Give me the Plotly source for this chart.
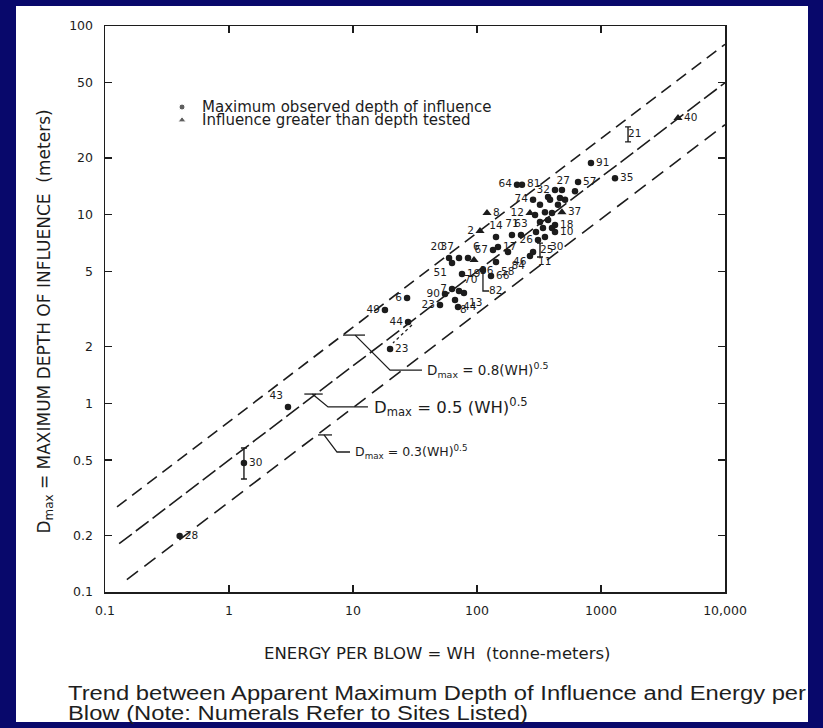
import math
import plotly.graph_objects as go

# ---------------- data ----------------
# sites: maximum observed depth of influence (filled circles)
circ_site = ["28", "30", "43", "23", "44", "49", "6", "90", "23", "8", "44", "7", "70", "13",
             "19", "66", "", "20", "51", "37", "6", "67", "17", "58", "46", "84", "11", "14",
             "71", "63", "64", "81", "74", "32", "", "27", "57", "91", "35", "18", "30", "10", "26",
             "", "", "", "", "", "", "", "", "", "", "", "", "", ""]
circ_wh = [0.40, 1.32, 2.99, 19.9, 27.8, 18.1, 27.3, 55.2, 50.3, 66.5, 70.3, 62.9, 71.6, 78.5,
           75.7, 129.7, 111.7, 59.5, 62.9, 71.6, 84.6, 134.6, 147.6, 142.3, 177.8, 267.4, 283.1, 142.3,
           191.4, 226.4, 210.2, 230.6, 283.1, 425.6, 484.2, 617, 653.1, 830, 1297, 425.6, 353.2, 425.6, 310.5,
           322.1, 353.2, 388.2, 374.1, 322.1, 293.8, 340.4, 402.6, 449.8, 466.7, 299.2, 374.1, 512.9, 402.6]
circ_d = [0.198, 0.483, 0.957, 1.94, 2.70, 3.12, 3.62, 3.80, 3.32, 3.53, 3.24, 4.04, 3.94, 3.84,
          4.85, 4.73, 5.09, 5.89, 5.54, 5.89, 5.89, 6.50, 6.74, 5.61, 6.34, 6.04, 6.34, 7.62,
          7.80, 7.80, 14.4, 14.4, 12.0, 13.5, 13.5, 13.3, 14.9, 18.8, 15.6, 8.81, 7.62, 8.09, 7.34,
          11.3, 10.3, 12.0, 9.37, 9.14, 9.95, 8.50, 10.2, 11.3, 12.25, 8.09, 12.4, 12.0, 8.50]

# sites: influence greater than depth tested (triangles)
tri_site = ["36", "2", "8", "12", "37", "40"]
tri_wh = [94.6, 105.7, 120.4, 267.4, 484.2, 4178]
tri_d = [5.75, 8.19, 10.2, 10.2, 10.3, 32.5]

# sites reported as a depth range
range_site = ["30", "21", "25"]
range_wh = [1.32, 1652, 322.1]
range_low = [0.397, 24.3, 5.97]
range_high = [0.58, 29.2, 7.07]
range_mid = [0.483, 26.6, 6.5]

# trend lines  Dmax = k (WH)^0.5
line_k = [0.8, 0.5, 0.3]
line_wh_start = [0.125, 0.13, 0.15]
line_wh_end = [10000, 10000, 10000]
line_text = ["D<sub>max</sub> = 0.8(WH)<sup>0.5</sup>",
             "D<sub>max</sub> = 0.5 (WH)<sup>0.5</sup>",
             "D<sub>max</sub> = 0.3(WH)<sup>0.5</sup>"]

# leader lines for equation labels (tick on line, slant, horizontal)
lead_tick_wh = [(8.30, 12.5), (4.05, 5.7), (5.22, 6.77)]
lead_tick_d = [2.30, 1.12, 0.680]
lead_path_wh = [(10.4, 19.9, 36.0), (4.7, 6.29, 13.2), (5.84, 7.43, 9.46)]
lead_path_d = [(2.30, 1.50, 1.50), (1.12, 0.957, 0.957), (0.680, 0.552, 0.552)]
lead_text_wh = [38.1, 14.2, 10.0]

# leader for site 82 and dotted link 44-23
s82_wh = [111.7, 111.7, 125]
s82_d = [5.09, 3.94, 3.94]
dot_wh = [29.9, 21.0]
dot_d = [2.60, 2.09]

# key (legend) entries
key_text = ["Maximum observed depth of influence", "Influence greater than depth tested"]
key_sym_wh = 0.418
key_text_wh = 0.583
key_d = [37.2, 31.7]

x_ticks = [0.1, 1, 10, 100, 1000, 10000]
x_ticktext = ["0.1", "1", "10", "100", "1000", "10,000"]
y_ticks = [0.1, 0.2, 0.5, 1, 2, 5, 10, 20, 50, 100]
y_ticktext = ["0.1", "0.2", "0.5", "1", "2", "5", "10", "20", "50", "100"]

caption_lines = ["Trend between Apparent Maximum Depth of Influence and Energy per",
                 "Blow (Note: Numerals Refer to Sites Listed)"]

# ---------------- styles ----------------
INK = "#1c1c1c"
FONT = "DejaVu Sans"
NAVY = "#08086b"
W, H = 823, 728
ML, MR, MT, MB = 105, 98, 26, 136
PW, PH = W - ML - MR, H - MT - MB
CAPTION_WIDTH = 738  # px width of the first caption line


def px_x(p):
    return (p - ML) / PW


def px_y(p):
    return (H - MB - p) / PH


circ_pos = ["middle right", "middle right", "top left", "middle right", "middle left", "middle left",
            "middle left", "middle left", "middle left", "bottom right", "middle right", "middle left",
            "top right", "bottom right", "middle right", "middle right", "middle right", "top left",
            "bottom left", "top left", "top right", "middle left", "middle right", "bottom right",
            "bottom right", "bottom left", "bottom right", "top center", "top center", "top center",
            "middle left", "middle right", "middle left", "middle left", "middle right", "top left",
            "middle right", "middle right", "middle right", "middle right", "bottom right",
            "middle right", "middle left"] + ["middle right"] * 14
tri_pos = ["bottom right", "middle left", "middle right", "middle left", "middle right", "middle right"]
line_dash = ["12px,7px", "16px,5px", "14px,8px"]
line_font = [13.5, 16.5, 12.5]
LBL = 10.5

fig = go.Figure()

# trend lines
for k, a, b, dash in zip(line_k, line_wh_start, line_wh_end, line_dash):
    fig.add_trace(go.Scatter(x=[a, b], y=[k * a ** 0.5, k * b ** 0.5], mode="lines",
                             line=dict(color=INK, width=1.6, dash=dash),
                             hoverinfo="skip", showlegend=False))

# equation leaders + labels
for (t0, t1), td, pw, pd, tw, txt, fs in zip(lead_tick_wh, lead_tick_d, lead_path_wh, lead_path_d,
                                             lead_text_wh, line_text, line_font):
    fig.add_trace(go.Scatter(x=[t0, t1], y=[td, td], mode="lines",
                             line=dict(color=INK, width=1.3), hoverinfo="skip", showlegend=False))
    fig.add_trace(go.Scatter(x=list(pw), y=list(pd), mode="lines",
                             line=dict(color=INK, width=1.3), hoverinfo="skip", showlegend=False))
    fig.add_annotation(x=math.log10(tw), y=math.log10(pd[-1]), xref="x", yref="y", text=txt,
                       showarrow=False, xanchor="left", yanchor="middle",
                       font=dict(family=FONT, size=fs, color=INK))

# site 82 leader and dotted link
fig.add_trace(go.Scatter(x=s82_wh, y=s82_d, mode="lines", line=dict(color=INK, width=1.3),
                         hoverinfo="skip", showlegend=False))
fig.add_trace(go.Scatter(x=[s82_wh[-1]], y=[s82_d[-1]], mode="text", text=["82"],
                         textposition="middle right",
                         textfont=dict(family=FONT, size=LBL, color=INK),
                         hoverinfo="skip", showlegend=False))
fig.add_trace(go.Scatter(x=dot_wh, y=dot_d, mode="lines", line=dict(color=INK, width=1.3, dash="dot"),
                         hoverinfo="skip", showlegend=False))

# range sites (vertical bars)
fig.add_trace(go.Scatter(
    x=range_wh, y=range_mid, mode="markers",
    marker=dict(size=1, color="rgba(0,0,0,0)"),
    error_y=dict(type="data", symmetric=False,
                 array=[h - m for h, m in zip(range_high, range_mid)],
                 arrayminus=[m - l for l, m in zip(range_low, range_mid)],
                 color=INK, thickness=1.4, width=3),
    hoverinfo="skip", showlegend=False))
fig.add_trace(go.Scatter(x=range_wh[1:], y=range_mid[1:], mode="text", text=range_site[1:],
                         textposition="middle right",
                         textfont=dict(family=FONT, size=LBL, color=INK),
                         hoverinfo="skip", showlegend=False))

# circles
fig.add_trace(go.Scatter(x=circ_wh, y=circ_d, mode="markers+text", text=circ_site,
                         textposition=circ_pos,
                         textfont=dict(family=FONT, size=LBL, color=INK),
                         marker=dict(symbol="circle", size=6.5, color=INK),
                         hoverinfo="skip", showlegend=False))
# triangles
fig.add_trace(go.Scatter(x=tri_wh, y=tri_d, mode="markers+text", text=tri_site,
                         textposition=tri_pos,
                         textfont=dict(family=FONT, size=LBL, color=INK),
                         marker=dict(symbol="triangle-up", size=8, color=INK),
                         hoverinfo="skip", showlegend=False))

# in-plot key
fig.add_trace(go.Scatter(x=[key_sym_wh, key_sym_wh], y=key_d, mode="markers",
                         marker=dict(symbol=["circle", "triangle-up"], size=[6, 7], color=INK),
                         hoverinfo="skip", showlegend=False))
for t, d in zip(key_text, key_d):
    fig.add_annotation(x=math.log10(key_text_wh), y=math.log10(d), xref="x", yref="y",
                       xanchor="left", yanchor="middle", showarrow=False, text=t,
                       font=dict(family=FONT, size=15, color=INK))

# axis titles and caption
fig.add_annotation(x=px_x(32), y=px_y(322), xref="paper", yref="paper", textangle=-90,
                   showarrow=False,
                   text="D<sub>max</sub> = MAXIMUM DEPTH OF INFLUENCE  (meters)",
                   font=dict(family=FONT, size=17, color=INK))
fig.add_annotation(x=px_x(437), y=px_y(654), xref="paper", yref="paper", showarrow=False,
                   yanchor="middle",
                   text="ENERGY PER BLOW = WH  (tonne-meters)",
                   font=dict(family=FONT, size=16.5, color=INK))
for line, py in zip(caption_lines, [693, 713]):
    fig.add_annotation(x=px_x(66), y=px_y(py), xref="paper", yref="paper", showarrow=False,
                       xanchor="left", yanchor="middle", align="left", text=line,
                       font=dict(family="Liberation Sans", size=20, color="#1e1e1e"))

# white page on navy slide
fig.add_shape(type="rect", xref="paper", yref="paper", layer="below",
              x0=px_x(16), x1=px_x(808), y0=px_y(722), y1=px_y(6),
              fillcolor="white", line=dict(width=0))

axis_common = dict(type="log", showgrid=False, zeroline=False, showline=True, linecolor=INK,
                   linewidth=1.5, mirror="ticks", ticks="inside", ticklen=7, tickwidth=1.3,
                   tickcolor=INK, tickfont=dict(family=FONT, size=12.5, color=INK))
fig.update_layout(
    width=W, height=H,
    margin=dict(l=ML, r=MR, t=MT, b=MB),
    paper_bgcolor=NAVY, plot_bgcolor="white",
    xaxis=dict(range=[-1, 4], tickvals=x_ticks, ticktext=x_ticktext, ticklabelstandoff=6,
               **axis_common),
    yaxis=dict(range=[-1, 2], tickvals=y_ticks, ticktext=y_ticktext, ticklabelstandoff=8,
               **axis_common),
    showlegend=False,
)

post = (
    "document.body.style.margin='0';"
    "document.body.style.background='" + NAVY + "';"
    "var ts=document.querySelectorAll('.annotation-text');var f=null;"
    "ts.forEach(function(t){if(t.textContent.indexOf('Trend between')===0){"
    "f=" + str(CAPTION_WIDTH) + "/t.getComputedTextLength();}});"
    "if(f){ts.forEach(function(t){var c=t.textContent;"
    "if(c.indexOf('Trend between')===0||c.indexOf('Blow (Note')===0){"
    "t.setAttribute('text-anchor','start');"
    "t.setAttribute('textLength',t.getComputedTextLength()*f);"
    "t.setAttribute('lengthAdjust','spacingAndGlyphs');}});}"
)
fig.write_html("out.html", config={"displayModeBar": False, "staticPlot": True}, post_script=post)
